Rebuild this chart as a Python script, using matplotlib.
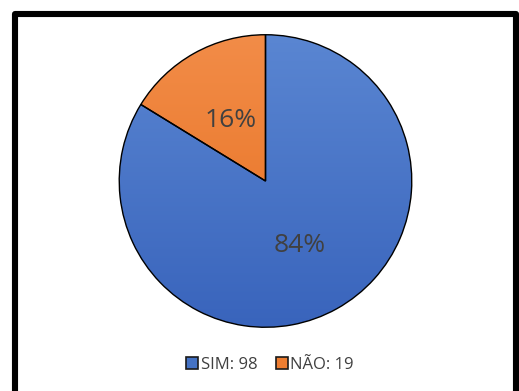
import numpy as np
import matplotlib
matplotlib.use("Agg")
import matplotlib.pyplot as plt
from matplotlib.patches import Rectangle
from matplotlib.colors import to_rgb

labels = ["SIM", "NÃO"]
counts = [98, 19]
top_colors = ["#5A86D2", "#F28C48"]
bottom_colors = ["#3964BC", "#E66F1E"]
base_colors = ["#4472C4", "#ED7D31"]

W, H = 519, 391
fig = plt.figure(figsize=(W / 100, H / 100), dpi=100)
fig.patch.set_facecolor("white")

# outer frame (bottom edge runs past the canvas)
frame = Rectangle((15 / W, -20 / H), 501 / W, (H - 14 + 20) / H,
                  transform=fig.transFigure, fill=False, edgecolor="black",
                  linewidth=4.4, joinstyle="round")
fig.patches.append(frame)

cx, cy, r = 265.5, 181, 147
ax = fig.add_axes([(cx - r) / W, (H - cy - r) / H, 2 * r / W, 2 * r / H])
ax.axis("off")

wedges, _ = ax.pie(counts, colors=base_colors, startangle=90, counterclock=False,
                   radius=1, center=(0, 0),
                   wedgeprops=dict(edgecolor="black", linewidth=1.0))

# vertical shading inside each slice
t = np.linspace(0, 1, 256)[:, None]
for w, c_top, c_bot in zip(wedges, top_colors, bottom_colors):
    a = np.array(to_rgb(c_top))
    b = np.array(to_rgb(c_bot))
    img = (a[None, None, :] * (1 - t[..., None]) + b[None, None, :] * t[..., None])
    img = np.repeat(img, 2, axis=1)
    im = ax.imshow(img, extent=(-1, 1, -1, 1), origin="upper", zorder=w.get_zorder() + 0.1,
                   aspect="auto")
    im.set_clip_path(w)
    w.set_facecolor("none")
    w.set_zorder(w.get_zorder() + 0.2)
ax.set_xlim(-1.005, 1.005)
ax.set_ylim(-1.005, 1.005)
ax.set_aspect("equal")

total = sum(counts)
pcts = [round(100 * v / total) for v in counts]
ax.text((300 - cx) / r, (cy - 246) / r, f"{pcts[0]}%", ha="center", va="center",
        fontsize=19, color="#404040", family="Open Sans", zorder=5)
ax.text((230 - cx) / r, (cy - 120) / r, f"{pcts[1]}%", ha="center", va="center",
        fontsize=19, color="#404040", family="Open Sans", zorder=5)

# legend
handles = [Rectangle((0, 0), 1, 1, facecolor=c, edgecolor="#1a1a1a", linewidth=1.2)
           for c in base_colors]
leg = fig.legend(handles, [f"{l}: {v}" for l, v in zip(labels, counts)],
                 loc="center", bbox_to_anchor=(270 / W, 1 - 365 / H), ncol=2,
                 frameon=False, handlelength=0.72, handleheight=0.72,
                 handletextpad=0.15, columnspacing=1.1,
                 prop=dict(family="Open Sans", size=12))
for txt in leg.get_texts():
    txt.set_color("#404040")

fig.savefig("out.png", dpi=100, facecolor="white")
